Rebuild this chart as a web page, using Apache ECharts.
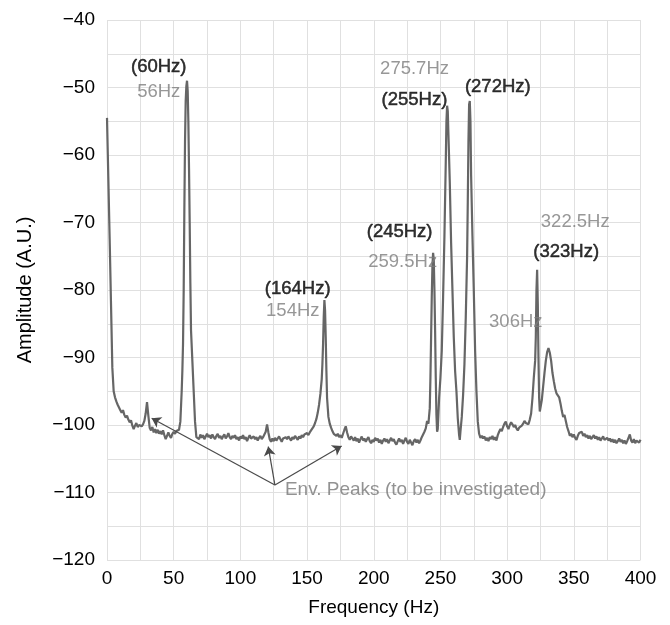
<!DOCTYPE html>
<html>
<head>
<meta charset="utf-8">
<script src="https://cdn.jsdelivr.net/npm/echarts@6/dist/echarts.min.js"></script>
<style>
html,body{margin:0;padding:0;background:#fff;}
#chart{width:670px;height:625px;}
</style>
</head>
<body>
<div id="chart"></div>
<script>
// ---- data: [frequency Hz, amplitude A.U.] ----
const lowBand = [[0,-54.5],[1,-63.5],[2,-72.5],[3,-82],[4,-91.5],[5,-95],[6,-95.9],[7,-96.5],[8,-97],[9,-97.4],[10,-97.8],[11,-98.2],[12,-97.8],[13,-98.5],[14,-98.9],[15,-98.6],[16,-99.2],[17,-99.6],[18,-99.3],[19,-100.1],[20,-100.6],[21,-100.1],[22,-99.7],[23,-100.3],[24,-100.0],[25,-99.8],[26,-100.2],[27,-99.9],[28,-99.4],[29,-98.3],[30,-96.6],[31,-98.6],[32,-100.4],[33,-100.8],[34,-100.3],[35,-101.1],[36,-100.6],[37,-101.2],[38,-100.7],[39,-101.3],[40,-100.9],[41,-101.4],[42,-100.8],[43,-101.5],[44,-102.1],[45,-101.6],[46,-101.1],[47,-101.6],[48,-101.9],[49,-101.3],[50,-101.0],[51,-101.3],[52,-100.9],[53,-101.1],[54,-100.7]];
const peak60 = [[55,-99.5],[56,-95],[56.5,-92],[57,-88],[57.5,-80],[58,-68],[58.5,-58],[59,-52],[59.5,-49.8],[60,-49],[60.5,-50.5],[61,-55],[61.5,-62],[62,-70],[62.5,-79],[63,-86],[64,-90.5],[65,-95],[66,-99.5],[67,-101.8]];
const floorA = [[68,-101.6],[69,-102.1],[70,-101.4],[71,-101.9],[72,-101.5],[73,-102.1],[74,-101.7],[75,-101.3],[76,-101.8],[77,-101.5],[78,-102.0],[79,-101.4],[80,-101.8],[81,-102.1],[82,-101.6],[83,-101.3],[84,-101.9],[85,-101.6],[86,-102.1],[87,-101.7],[88,-101.4],[89,-102.0],[90,-101.7],[91,-101.2],[92,-101.8],[93,-102.1],[94,-101.6],[95,-101.9],[96,-101.5],[97,-102.1],[98,-101.8],[99,-102.3],[100,-101.7],[101,-102.0],[102,-101.5],[103,-102.1],[104,-101.8],[105,-102.4],[106,-101.9],[107,-101.5],[108,-102.0],[109,-102.2],[110,-101.7],[111,-102.1],[112,-101.8],[113,-102.3],[114,-101.9],[115,-101.6],[116,-102.1],[117,-101.8],[118,-101.4],[119,-101.0],[120,-99.9],[121,-101.1],[122,-102.1],[123,-102.5],[124,-102.0],[125,-102.4],[126,-101.9],[127,-102.3],[128,-102.0],[129,-101.7],[130,-102.1],[131,-102.5],[132,-102.0],[133,-102.2],[134,-101.8],[135,-102.1],[136,-101.7],[137,-102.0],[138,-102.3],[139,-101.8],[140,-102.1],[141,-101.6],[142,-101.9],[143,-102.2],[144,-101.7],[145,-102.0],[146,-101.5],[147,-101.8],[148,-101.4],[149,-101.6],[150,-101.2],[151,-101.5],[152,-101.1],[153,-100.8],[154,-100.5]];
const peak164 = [[155,-100.2],[156,-99.7],[157,-99.1],[158,-98.2],[159,-97.0],[160,-95.4],[161,-93.2],[161.5,-91],[162,-88],[162.5,-84],[163,-81.5],[163.5,-83],[164,-87],[164.5,-92],[165,-96],[166,-98.8],[167,-99.8],[168,-100.4],[169,-100.9],[170,-101.3],[171,-101.1],[172,-101.6],[173,-101.3],[174,-101.8],[175,-101.5],[176,-101.9],[177,-101.3],[178,-100.7],[179,-100.2],[180,-101.1],[181,-101.8],[182,-102.2],[183,-101.7],[184,-102.0]];
const floorB = [[185,-102.3],[186,-101.8],[187,-102.4],[188,-102.0],[189,-102.6],[190,-102.1],[191,-101.7],[192,-102.3],[193,-102.0],[194,-102.5],[195,-102.1],[196,-101.8],[197,-102.4],[198,-102.7],[199,-102.2],[200,-102.5],[201,-101.9],[202,-102.3],[203,-102.0],[204,-102.6],[205,-102.2],[206,-102.8],[207,-102.3],[208,-102.0],[209,-102.5],[210,-102.1],[211,-102.7],[212,-102.3],[213,-101.9],[214,-102.4],[215,-102.1],[216,-102.6],[217,-102.9],[218,-102.4],[219,-102.0],[220,-102.5],[221,-102.2],[222,-102.8],[223,-102.3],[224,-101.9],[225,-102.5],[226,-102.8],[227,-102.2],[228,-102.6],[229,-103.0],[230,-102.4],[231,-102.1],[232,-102.6],[233,-102.2],[234,-102.7],[235,-102.3],[236,-101.8],[237,-101.6]];
const peaks245to272 = [[238,-101.0],[239,-100.5],[240,-99.4],[241,-99.8],[242,-97.5],[242.5,-93],[243,-87],[243.5,-81],[244,-76.5],[244.5,-74.5],[245,-75.5],[245.5,-80],[246,-86],[246.5,-93],[247,-98.5],[247.5,-101],[248,-100.6],[249,-96],[250,-93],[251,-89],[252,-81],[253,-72],[254,-61],[254.5,-55],[255,-52.7],[255.5,-53.5],[256,-57],[257,-64],[258,-73],[259,-80],[260,-87],[261,-92],[262,-95],[263,-99],[264,-101.5],[264.5,-102.2],[265,-101.0],[266,-98.8],[267,-95.5],[268,-91],[269,-84],[270,-75],[270.5,-67],[271,-58],[271.5,-52.5],[272,-52],[272.5,-55],[273,-63],[274,-72],[275,-80],[276,-89],[277,-95],[278,-99.5],[279,-101.3],[280,-101.9]];
const floorC = [[281,-101.6],[282,-102.0],[283,-101.7],[284,-102.3],[285,-101.9],[286,-102.4],[287,-101.8],[288,-102.1],[289,-101.6],[290,-102.2],[291,-101.8],[292,-102.3],[293,-101.5],[294,-101.0],[295,-100.6],[296,-100.9],[297,-100.3],[298,-99.8],[299,-99.5],[300,-100.2],[301,-100.6],[302,-100.0],[303,-99.6],[304,-99.9],[305,-100.3],[306,-100.0],[307,-100.5],[308,-100.8],[309,-100.4],[310,-100.6],[311,-100.1],[312,-99.8],[313,-99.4],[314,-99.7],[315,-99.6],[316,-99.9],[317,-99.2]];
const peak323 = [[318,-98.3],[319,-96],[320,-93],[321,-90.5],[321.5,-87],[322,-80],[322.5,-77],[323,-82],[323.5,-90],[324,-96],[324.5,-98],[325,-98],[326,-96.3],[327,-94.3],[328,-92.3],[329,-90.5],[330,-89.2],[331,-88.6],[332,-89.3],[333,-90.5],[334,-92.3],[335,-93.5],[336,-94.6],[337,-95.3],[338,-95.6],[339,-95.9],[340,-96.8],[341,-97.9],[342,-98.8],[343,-98.5],[344,-99.4],[345,-100.3],[346,-100.9],[347,-101.6],[348,-101.3],[349,-101.8]];
const floorD = [[350,-101.4],[351,-101.9],[352,-102.2],[353,-101.6],[354,-101.2],[355,-101.4],[356,-101.0],[357,-101.6],[358,-101.3],[359,-101.8],[360,-101.5],[361,-102.0],[362,-101.6],[363,-102.1],[364,-101.9],[365,-101.5],[366,-102.0],[367,-101.7],[368,-102.2],[369,-101.8],[370,-102.3],[371,-102.0],[372,-101.7],[373,-102.2],[374,-102.4],[375,-101.9],[376,-102.3],[377,-102.0],[378,-102.5],[379,-102.1],[380,-102.6],[381,-102.2],[382,-102.7],[383,-102.4],[384,-102.0],[385,-102.5],[386,-102.2],[387,-102.7],[388,-102.3],[389,-102.8],[390,-102.4],[391,-101.9],[392,-101.4],[393,-102.3],[394,-102.6],[395,-102.1],[396,-102.7],[397,-102.3],[398,-102.1],[399,-102.6],[400,-102.2]];

// peak annotation texts anchored in data coordinates [Hz, amplitude]
const blackLabels = [["(60Hz)",38.8,-47.0],["(164Hz)",143.0,-79.8],["(255Hz)",230.5,-51.9],["(272Hz)",293.0,-49.9],["(245Hz)",219.4,-71.4],["(323Hz)",344.3,-74.3]];
const grayLabels = [["56Hz",38.8,-50.6],["154Hz",139.3,-83.1],["275.7Hz",230.6,-47.3],["259.5Hz",221.7,-75.8],["322.5Hz",351.1,-69.9],["306Hz",306.5,-84.8]];
const envNote = ["Env. Peaks (to be investigated)",133.4,-109.6];
const arrowFrom = [125.9,-108.9];
const arrowTargets = [[33.5,-99.0],[120.9,-103.2],[175.9,-103.1]];

const xTicks = {min:0, max:400, step:25, labelEvery:50};
const yTicks = {min:-120, max:-40, step:5, labelEvery:10};

const spectrum = [].concat(lowBand, peak60, floorA, peak164, floorB, peaks245to272, floorC, peak323, floorD);

const FONT = "'Liberation Sans', Arial, Helvetica, sans-serif";
const chart = echarts.init(document.getElementById('chart'), null, {renderer:'canvas'});

function labelSeries(list, color, size, stroke){
  return {
    type:'scatter', silent:true, symbolSize:0, z:5,
    data:list.map(d=>({name:d[0], value:[d[1],d[2]]})),
    label:{show:true, position:'inside', formatter:p=>p.name, color:color, fontSize:size, fontFamily:FONT,
      textBorderColor:color, textBorderWidth:stroke},
    emphasis:{disabled:true}
  };
}

chart.setOption({
  animation:false,
  backgroundColor:'#ffffff',
  grid:{left:107, right:29.5, top:20, bottom:65, containLabel:false},
  xAxis:{
    type:'value', min:xTicks.min, max:xTicks.max, interval:xTicks.step,
    name:'Frequency (Hz)', nameLocation:'middle', nameGap:38,
    nameTextStyle:{color:'#000', fontSize:19, fontFamily:FONT},
    axisLine:{show:false}, axisTick:{show:false},
    axisLabel:{color:'#000', fontSize:19, fontFamily:FONT, margin:9,
      formatter:v=> (v % xTicks.labelEvery === 0 ? String(v) : '')},
    splitLine:{show:true, lineStyle:{color:'#e0e0e0', width:1}}
  },
  yAxis:{
    type:'value', min:yTicks.min, max:yTicks.max, interval:yTicks.step,
    name:'Amplitude (A.U.)', nameLocation:'middle', nameGap:72,
    nameTextStyle:{color:'#000', fontSize:20, fontFamily:FONT},
    axisLine:{show:false}, axisTick:{show:false},
    axisLabel:{color:'#000', fontSize:19, fontFamily:FONT, margin:12,
      formatter:v=> (Math.abs(v % yTicks.labelEvery) === 0 ? String(v).replace('-', '\u2212') : '')},
    splitLine:{show:true, lineStyle:{color:'#e0e0e0', width:1}}
  },
  series:[
    {
      type:'line', data:spectrum, showSymbol:false, symbol:'none', z:3,
      lineStyle:{color:'#666666', width:2.2}, silent:true
    },
    {
      type:'lines', coordinateSystem:'cartesian2d', silent:true, z:4,
      symbol:['none','arrow'], symbolSize:9,
      lineStyle:{color:'#4a4a4a', width:1.2, opacity:1, curveness:0},
      data:arrowTargets.map(t=>({coords:[arrowFrom, t]}))
    },
    labelSeries(blackLabels, '#000000', 18.5, 0.5),
    labelSeries(grayLabels, '#7d7d7d', 18.5, 0),
    {
      type:'scatter', silent:true, symbolSize:0, z:5,
      data:[{name:envNote[0], value:[envNote[1], envNote[2]]}],
      label:{show:true, position:'right', distance:0, formatter:p=>p.name, color:'#777777', fontSize:19, fontFamily:FONT},
      emphasis:{disabled:true}
    }
  ]
});
</script>
</body>
</html>
